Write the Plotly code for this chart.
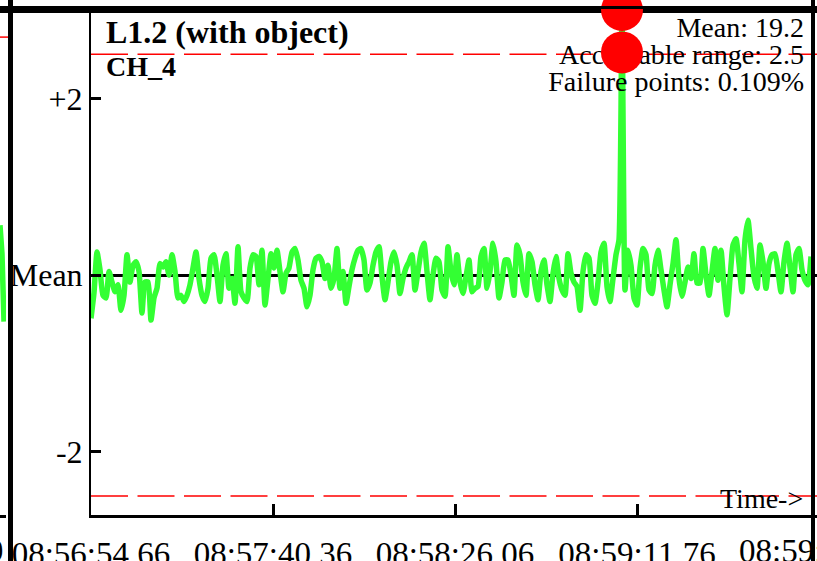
import plotly.graph_objects as go
import pandas as pd

# ---- data ----
DAY = "2024-01-01"
START = "08:56:54.66"
SAMPLE_MS = 753.3  # sampling interval of the trace
TICK_LABELS = ["08:56:54.66", "08:57:40.36", "08:58:26.06", "08:59:11.76", "08:59:57.46"]
Y_TICKS = [-2, 0, 2]
Y_TICK_LABELS = ["-2", "Mean", "+2"]
LIMIT = 2.5

VALUES = [
    -0.49, -0.20, 0.26, 0.06, -0.23, -0.26, 0.04, -0.08, -0.19, -0.11, -0.40, -0.23, 0.23, -0.08,
    0.11, 0.15, 0.04, -0.43, -0.08, -0.08, -0.51, -0.26, -0.15, 0.13, 0.09, 0.15, 0.00, 0.23,
    0.04, -0.26, -0.23, -0.30, -0.23, -0.11, 0.08, 0.26, -0.04, -0.23, -0.30, -0.15, 0.19,
    0.23, 0.00, -0.30, 0.11, 0.24, -0.15, -0.04, -0.32, 0.32, -0.19, -0.26, -0.30, 0.08, 0.23,
    0.21, -0.11, 0.28, -0.34, -0.04, 0.24, 0.08, 0.28, 0.04, -0.19, 0.02, 0.08, 0.26, 0.30,
    0.17, -0.06, -0.15, -0.36, -0.23, 0.06, 0.19, 0.21, 0.15, -0.04, 0.11, -0.15,
    -0.04, 0.30, -0.15, 0.04, -0.32, -0.13, 0.06, 0.19, 0.28, 0.30, 0.17, -0.17, -0.09, 0.11,
    0.26, 0.32, -0.02, -0.28, -0.08, 0.15, 0.26, 0.11, -0.21, -0.04, 0.08, 0.15, 0.23, -0.17,
    0.04, 0.26, 0.36, 0.04, -0.28, 0.00, 0.19, 0.15, -0.17, -0.24, 0.32, 0.04,
    -0.11, 0.23, -0.08, -0.21, -0.02, 0.17, -0.19, -0.15, -0.13, 0.21, 0.30, -0.15, 0.04, 0.36,
    0.15, -0.26, -0.08, 0.17, 0.17, 0.00, -0.23, 0.34, 0.23, -0.08, -0.23, 0.24, 0.15, -0.11,
    -0.28, 0.04, 0.17, -0.11, -0.30, 0.02, 0.21, -0.04, -0.17, -0.23, 0.24, 0.02,
    -0.08, -0.13, -0.40, 0.04, 0.23, 0.19, -0.23, -0.32, -0.08, 0.26, 0.36, -0.13, -0.30, -0.04,
    0.23, 0.40, 3.00, -0.17, 0.28, 0.11, -0.26, -0.34, 0.08, 0.30, 0.23, -0.17, -0.21, 0.11,
    0.28, 0.06, -0.17, -0.36, -0.11, 0.13, 0.40, -0.04, -0.24, -0.08, 0.09, -0.04,
    0.24, -0.09, -0.09, 0.30, 0.00, -0.23, 0.04, 0.30, -0.06, 0.28, -0.13, -0.45, -0.04, 0.34,
    0.41, 0.13, -0.19, 0.40, 0.62, 0.30, -0.02, -0.15, 0.34, 0.15, -0.15, 0.13, 0.23, 0.24,
    0.04, -0.19, 0.15, 0.36, 0.09, -0.19, 0.23, 0.30, 0.06, -0.06, -0.11, 0.21,
]
FAIL_INDEX = [177, 177]
FAIL_VALUES = [3.0, 2.52]

TITLE = "L1.2 (with object)"
CHANNEL = "CH_4"
STATS = ["Mean: 19.2", "Acceptable range: 2.5", "Failure points: 0.109%"]

# edge of the neighbouring panel on the left
LEFT_TIMES = ["08:59:55.45", "08:59:55.95", "08:59:56.46"]
LEFT_VALUES = [0.37, 0.05, -0.72]

# ---- page geometry (pixels) ----
W, H = 817, 561
PL, PR, PT, PB = 91, 817, 9, 515
Y_RANGE = [-2.716, 3.011]
Y2_RANGE = [-2.909, 2.818]
SEC_PER_PX = 45.7 / 182
FONT = "Liberation Serif"


def px_x(px):
    return px / W


def px_y(py):
    return (H - py) / H


t0 = pd.Timestamp(f"{DAY} {START}")


def t_at(px):
    return (t0 + pd.Timedelta(seconds=(px - PL) * SEC_PER_PX)).strftime("%Y-%m-%d %H:%M:%S.%f")


def v_at(py):
    return Y_RANGE[0] + (PB - py) / (PB - PT) * (Y_RANGE[1] - Y_RANGE[0])


times = pd.date_range(t0, periods=len(VALUES), freq=pd.Timedelta(milliseconds=SAMPLE_MS))
fail_times = [times[i] for i in FAIL_INDEX]

fig = go.Figure()
fig.add_trace(go.Scatter(x=times, y=VALUES, mode="lines",
                         line=dict(color="#33FF33", width=5.5, shape="spline", smoothing=0.5),
                         hoverinfo="skip"))
fig.add_trace(go.Scatter(x=[t_at(804)] * 3, y=[v_at(30), v_at(57), v_at(84)],
                         mode="text", text=STATS, textposition="middle left",
                         textfont=dict(family=FONT, size=28, color="black"),
                         cliponaxis=False, hoverinfo="skip"))
fig.add_trace(go.Scatter(x=fail_times, y=FAIL_VALUES, mode="markers",
                         marker=dict(color="#FF0000", size=42, line=dict(width=0)),
                         cliponaxis=False, hoverinfo="skip"))
fig.add_trace(go.Scatter(x=[f"{DAY} {t}" for t in LEFT_TIMES], y=LEFT_VALUES,
                         mode="lines", line=dict(color="#33FF33", width=5.5),
                         xaxis="x2", yaxis="y2", hoverinfo="skip"))

dash = "37px,9.5px"
shapes = [
    dict(type="line", xref="x domain", yref="y", x0=0, x1=1, y0=LIMIT, y1=LIMIT,
         line=dict(color="#FF0000", width=1.5, dash=dash), layer="below"),
    dict(type="line", xref="x domain", yref="y", x0=0, x1=1, y0=-LIMIT, y1=-LIMIT,
         line=dict(color="#FF0000", width=1.5, dash=dash), layer="below"),
    dict(type="line", xref="x2 domain", yref="y2", x0=0, x1=1.4, y0=LIMIT, y1=LIMIT,
         line=dict(color="#FF0000", width=1.5), layer="below"),
    # panel separators
    dict(type="rect", xref="paper", yref="paper", x0=0, x1=1, y0=px_y(13), y1=px_y(6),
         fillcolor="black", line=dict(width=0), layer="below"),
    dict(type="rect", xref="paper", yref="paper", x0=px_x(8), x1=px_x(13), y0=0, y1=1,
         fillcolor="black", line=dict(width=0), layer="above"),
    dict(type="rect", xref="paper", yref="paper", x0=px_x(811), x1=px_x(815), y0=0, y1=1,
         fillcolor="black", line=dict(width=0), layer="above"),
]

annotations = [
    dict(text=f"<b>{TITLE}</b>", x=px_x(104), y=px_y(32), xref="paper", yref="paper",
         xanchor="left", yanchor="middle", showarrow=False,
         font=dict(family=FONT, size=32, color="black")),
    dict(text=f"<b>{CHANNEL}</b>", x=px_x(104), y=px_y(67), xref="paper", yref="paper",
         xanchor="left", yanchor="middle", showarrow=False,
         font=dict(family=FONT, size=28, color="black")),
    dict(text="Time->", x=px_x(805), y=px_y(498), xref="paper", yref="paper",
         xanchor="right", yanchor="middle", showarrow=False,
         font=dict(family=FONT, size=28, color="black")),
    dict(text=TICK_LABELS[-1], x=px_x(819), y=px_y(551), xref="paper", yref="paper",
         xanchor="center", yanchor="middle", showarrow=False,
         font=dict(family=FONT, size=33, color="black")),
    dict(text="9", x=px_x(6), y=px_y(551), xref="paper", yref="paper",
         xanchor="right", yanchor="middle", showarrow=False,
         font=dict(family=FONT, size=33, color="black")),
]

fig.update_layout(
    width=W, height=H,
    margin=dict(l=0, r=0, t=0, b=0, autoexpand=False),
    paper_bgcolor="white", plot_bgcolor="white",
    showlegend=False, hovermode=False,
    font=dict(family=FONT, size=32, color="black"),
    xaxis=dict(domain=[px_x(PL), px_x(PR)], type="date", automargin=False,
               range=[t_at(PL), t_at(PR)],
               tickvals=[f"{DAY} {t}" for t in TICK_LABELS[:-1]], ticktext=TICK_LABELS[:-1],
               ticks="inside", ticklen=11, tickwidth=3, tickcolor="black",
               showline=True, linecolor="black", linewidth=2.5, mirror=True,
               showgrid=False, zeroline=False, ticklabelstandoff=8,
               tickfont=dict(family=FONT, size=33, color="black")),
    yaxis=dict(domain=[px_y(PB), px_y(PT)], range=Y_RANGE, automargin=False,
               tickvals=Y_TICKS, ticktext=Y_TICK_LABELS,
               ticks="inside", ticklen=10, tickwidth=3, tickcolor="black",
               showline=True, linecolor="black", linewidth=2,
               showgrid=False, zeroline=True, zerolinecolor="black", zerolinewidth=3,
               ticklabelstandoff=0,
               tickfont=dict(family=FONT, size=32, color="black")),
    xaxis2=dict(domain=[0, px_x(6)], anchor="y2", type="date", automargin=False,
                range=[f"{DAY} 08:59:55.45", f"{DAY} 08:59:56.96"],
                showline=True, linecolor="black", linewidth=2.5,
                showticklabels=False, ticks="", showgrid=False, zeroline=False),
    yaxis2=dict(domain=[px_y(PB), px_y(PT)], anchor="x2", range=Y2_RANGE, visible=False,
                automargin=False),
    shapes=shapes,
    annotations=annotations,
)

# the page body has a default 8px margin; drop it so the figure sits at the window corner
fig.write_html("out.html", config={"displayModeBar": False},
               post_script="document.body.style.margin='0';")
